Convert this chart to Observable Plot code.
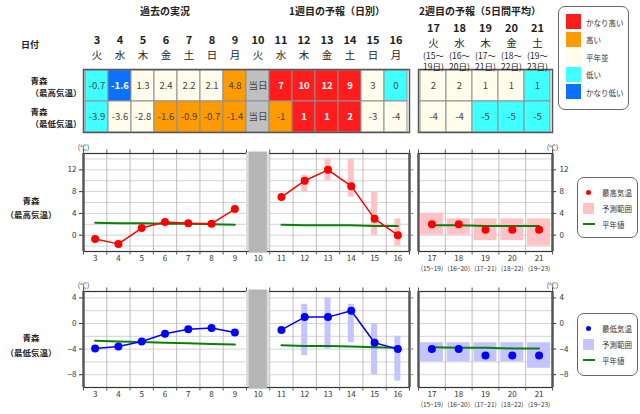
<!DOCTYPE html>
<html>
<head>
<meta charset="utf-8">
<script src="https://cdn.jsdelivr.net/npm/d3@7"></script>
<script src="https://cdn.jsdelivr.net/npm/@observablehq/plot@0.6"></script>
<style>
  body { margin: 0; background: #fff; }
  #root { position: relative; width: 640px; height: 414px; overflow: hidden;
          font-family: "Noto Sans CJK JP", "Noto Sans", sans-serif; color: #222; background: #fff; }
  .lbl { position: absolute; transform: translate(-50%, -50%); white-space: nowrap; text-align: center; }
  .legend { position: absolute; border: 1px solid #666; border-radius: 7px; background: #fff; box-sizing: border-box; }
  .legend .item { position: absolute; font-size: 7.5px; color: #333; white-space: nowrap; transform: translateY(-50%); }
  .legend .sw { position: absolute; }
</style>
</head>
<body>
<div id="root"></div>
<script>
// ---- 日付 ----
const days1 = [3, 4, 5, 6, 7, 8, 9, 10, 11, 12, 13, 14, 15, 16];
const weekdays1 = ["火", "水", "木", "金", "土", "日", "月", "火", "水", "木", "金", "土", "日", "月"];
const days2 = [17, 18, 19, 20, 21];
const weekdays2 = ["火", "水", "木", "金", "土"];
const spanStart2 = [15, 16, 17, 18, 19];
const spanEnd2 = [19, 20, 21, 22, 23];
const todayDay = 10;
const pastDays = [3, 4, 5, 6, 7, 8, 9];
const fcstDays = [11, 12, 13, 14, 15, 16];

// ---- 最高気温 ----
const pastHigh = [-0.7, -1.6, 1.3, 2.4, 2.2, 2.1, 4.8];
const fcstHigh = [7, 10, 12, 9, 3, 0];
const fcstHighMin = [null, 8, 10, 7, 0, -2];
const fcstHighMax = [null, 11, 14, 14, 8, 3];
const wk2High = [2, 2, 1, 1, 1];
const wk2HighMin = [0, 0, -1, -1, -2];
const wk2HighMax = [4, 3, 3, 3, 3];
const normHighPast = [2.3, 2.2, 2.2, 2.1, 2.1, 2.0, 1.9];
const normHighFcst = [1.9, 1.8, 1.8, 1.8, 1.7, 1.7];
const normHighWk2 = [1.8, 1.8, 1.7, 1.7, 1.7];

// ---- 最低気温 ----
const pastLow = [-3.9, -3.6, -2.8, -1.6, -0.9, -0.7, -1.4];
const fcstLow = [-1, 1, 1, 2, -3, -4];
const fcstLowMin = [null, -5, -4, -3, -8, -9];
const fcstLowMax = [null, 3, 4, 3, 0, -2];
const wk2Low = [-4, -4, -5, -5, -5];
const wk2LowMin = [-6, -6, -6, -6, -7];
const wk2LowMax = [-3, -3, -3, -3, -3];
const normLowPast = [-2.7, -2.8, -2.9, -3.0, -3.1, -3.2, -3.3];
const normLowFcst = [-3.4, -3.5, -3.5, -3.6, -3.7, -3.8];
const normLowWk2 = [-3.7, -3.8, -3.8, -3.9, -3.9];

// ---- 階級 ----
const classNames = ["かなり高い", "高い", "平年並", "低い", "かなり低い", "当日"];
const classColors = ["#ff1c1c", "#ff9a00", "#fffcec", "#40ffff", "#0a70ff", "#c0c0c0"];
const whiteTextClasses = ["かなり高い", "かなり低い"];
const highClass1 = ["低い", "かなり低い", "平年並", "平年並", "平年並", "平年並", "高い", "当日",
                    "かなり高い", "かなり高い", "かなり高い", "かなり高い", "平年並", "低い"];
const lowClass1 = ["低い", "平年並", "平年並", "高い", "高い", "高い", "高い", "当日",
                   "高い", "かなり高い", "かなり高い", "かなり高い", "平年並", "平年並"];
const highClass2 = ["平年並", "平年並", "平年並", "平年並", "低い"];
const lowClass2 = ["平年並", "平年並", "低い", "低い", "低い"];

// ---- 軸 ----
const rowKeys = ["最高気温", "最低気温"];
const highTicks = [0, 4, 8, 12];
const highGrid = [-2, 0, 2, 4, 6, 8, 10, 12, 14];
const lowTicks = [-8, -4, 0, 4];
const lowGrid = [-8, -6, -4, -2, 0, 2, 4];

const FONT = '"Noto Sans CJK JP", "Noto Sans", sans-serif';
const NORMAL = "#0a800a";
const root = document.getElementById("root");

function place(el, top) {
  el.style.position = "absolute";
  el.style.left = "0px";
  el.style.top = top + "px";
  root.appendChild(el);
}
function label(text, x, y, css = "") {
  const d = document.createElement("div");
  d.className = "lbl";
  d.style.cssText = `left:${x}px;top:${y}px;${css}`;
  d.textContent = text;
  root.appendChild(d);
}
const svgStyle = (size) => ({background: "transparent", overflow: "visible", fontFamily: FONT, fontSize: size, color: "#333"});

// ---- 表 ----
function week1Text(past, fcst) {
  return days1.map(d => {
    const p = pastDays.indexOf(d);
    if (p >= 0) return past[p].toFixed(1);
    if (d === todayDay) return "当日";
    return String(fcst[fcstDays.indexOf(d)]);
  });
}
function cellsFor(days, hiText, loText, hiCls, loCls) {
  return days.flatMap((day, i) => [
    {day, row: rowKeys[0], cls: hiCls[i], text: hiText[i]},
    {day, row: rowKeys[1], cls: loCls[i], text: loText[i]}
  ]);
}
function tablePlot(days, cells, ml, mr, extra) {
  return Plot.plot({
    width: 640, height: 140,
    marginTop: 69, marginBottom: 8, marginLeft: ml, marginRight: mr,
    x: {type: "band", domain: days, padding: 0, axis: null},
    y: {type: "band", domain: rowKeys, padding: 0, axis: null},
    color: {type: "ordinal", domain: classNames, range: classColors},
    style: svgStyle("9.5px"),
    marks: [
      Plot.cell(cells, {x: "day", y: "row", fill: "cls", stroke: "#8f8f8f", strokeWidth: 1}),
      Plot.text(cells.filter(d => whiteTextClasses.includes(d.cls)),
        {x: "day", y: "row", text: "text", fill: "white", fontWeight: "bold"}),
      Plot.text(cells.filter(d => !whiteTextClasses.includes(d.cls)),
        {x: "day", y: "row", text: "text", fill: "#444"}),
      Plot.frame({stroke: "#555", strokeWidth: 1.5}),
      ...extra
    ]
  });
}

const cells1 = cellsFor(days1, week1Text(pastHigh, fcstHigh), week1Text(pastLow, fcstLow), highClass1, lowClass1);
const cells2 = cellsFor(days2, wk2High.map(String), wk2Low.map(String), highClass2, lowClass2);

place(tablePlot(days1, cells1, 83, 231, [
  Plot.text(days1, {x: d => d, text: d => String(d), frameAnchor: "top", dy: -33, fontSize: 11, fontWeight: "bold", fill: "#222"}),
  Plot.text(days1, {x: d => d, text: (d, i) => weekdays1[i], frameAnchor: "top", dy: -18, fontSize: 10.5, fill: "#222"}),
  Plot.text(rowKeys, {y: d => d, text: d => `青森\n（${d}）`, frameAnchor: "left", dx: -53, fontSize: 8.5,
    fontWeight: "bold", lineHeight: 1.5, fill: "#222"})
]), 0);

place(tablePlot(days2, cells2, 418, 88, [
  Plot.text(days2, {x: d => d, text: d => String(d), frameAnchor: "top", dy: -45, fontSize: 11, fontWeight: "bold", fill: "#222"}),
  Plot.text(days2, {x: d => d, text: (d, i) => weekdays2[i], frameAnchor: "top", dy: -30, fontSize: 10.5, fill: "#222"}),
  Plot.text(days2, {x: d => d, text: (d, i) => `(${spanStart2[i]}～`, frameAnchor: "top", dy: -17, fontSize: 8.5, fill: "#222"}),
  Plot.text(days2, {x: d => d, text: (d, i) => `${spanEnd2[i]}日)`, frameAnchor: "top", dy: -6, fontSize: 8.5, fill: "#222"})
]), 0);

// ---- グラフ（過去・1週目） ----
function weekPanel(o) {
  const [ylo, yhi] = o.yDomain;
  const fh = o.height - o.mt - o.mb;
  const pxY = (yhi - ylo) / fh;
  const edges = [...days1.map(d => d - 0.5), days1[days1.length - 1] + 0.5];
  const x0 = edges[0], x1 = edges[edges.length - 1];
  const pxX = (x1 - x0) / (640 - 83 - 231);
  const pastPts = pastDays.map((day, i) => ({day, v: o.past[i], n: o.pastNorm[i]}));
  const fcstPts = fcstDays.map((day, i) => ({day, v: o.fcst[i], n: o.fcstNorm[i], lo: o.fcstMin[i], hi: o.fcstMax[i]}));
  return Plot.plot({
    width: 640, height: o.height, marginTop: o.mt, marginBottom: o.mb, marginLeft: 83, marginRight: 231,
    x: {domain: [x0, x1], axis: null},
    y: {domain: o.yDomain, ticks: o.ticks, tickSize: 4, tickPadding: 3, label: null},
    style: svgStyle("8px"),
    marks: [
      Plot.ruleY(o.grid, {stroke: "#d4d4d4"}),
      Plot.ruleX(edges.slice(1, -1), {stroke: "#bdbdbd"}),
      Plot.frame({stroke: "#333", strokeWidth: 1.2}),
      Plot.ruleX([x0, x1], {stroke: "#555", strokeWidth: 2.4}),
      Plot.ruleX(edges, {y1: yhi, y2: yhi + 3.5 * pxY, stroke: "#555"}),
      Plot.ruleX(edges, {y1: ylo, y2: ylo - 3.5 * pxY, stroke: "#555"}),
      Plot.ruleY(o.ticks, {x1: x1 + 1.5 * pxX, x2: x1 + 4.5 * pxX, stroke: "#888"}),
      Plot.rect([todayDay], {x1: d => d - 0.5, x2: d => d + 0.5, y1: ylo, y2: yhi, fill: "#dcdcdc"}),
      Plot.rect([todayDay], {x1: d => d - 0.5, x2: d => d + 0.5, y1: ylo, y2: yhi,
        insetLeft: 2.7, insetRight: 2.5, insetTop: -1.5, insetBottom: -1.5, fill: "#b5b5b5"}),
      Plot.rect(fcstPts.filter(d => d.lo != null), {x1: d => d.day - 0.13, x2: d => d.day + 0.13, y1: "lo", y2: "hi", fill: o.rangeColor}),
      Plot.line(pastPts, {x: "day", y: "n", stroke: NORMAL, strokeWidth: 2}),
      Plot.line(fcstPts, {x: "day", y: "n", stroke: NORMAL, strokeWidth: 2}),
      Plot.line(pastPts, {x: "day", y: "v", stroke: o.color, strokeWidth: 1.5}),
      Plot.line(fcstPts, {x: "day", y: "v", stroke: o.color, strokeWidth: 1.5}),
      Plot.dot(pastPts, {x: "day", y: "v", r: 4, fill: o.color}),
      Plot.dot(fcstPts, {x: "day", y: "v", r: 4, fill: o.color}),
      Plot.text(days1, {x: d => d, text: d => String(d), frameAnchor: "bottom", dy: 9.5, fill: "#333"}),
      Plot.text(["(℃)"], {text: d => d, frameAnchor: "top-left", textAnchor: "middle", dy: -8, fontSize: 7, fill: "#333"})
    ]
  });
}

// ---- グラフ（2週目） ----
function week2Panel(o) {
  const [ylo, yhi] = o.yDomain;
  const fh = o.height - o.mt - o.mb;
  const pxY = (yhi - ylo) / fh;
  const edges = [...days2.map(d => d - 0.5), days2[days2.length - 1] + 0.5];
  const x0 = edges[0], x1 = edges[edges.length - 1];
  const pts = days2.map((day, i) => ({day, v: o.vals[i], n: o.norm[i], lo: o.mins[i], hi: o.maxs[i]}));
  return Plot.plot({
    width: 640, height: o.height, marginTop: o.mt, marginBottom: o.mb, marginLeft: 418, marginRight: 88,
    x: {domain: [x0, x1], axis: null},
    y: {domain: o.yDomain, ticks: o.ticks, tickSize: 3, tickPadding: 4, label: null, axis: "right"},
    style: svgStyle("8px"),
    marks: [
      Plot.ruleY(o.grid, {stroke: "#d4d4d4"}),
      Plot.ruleX(edges.slice(1, -1), {stroke: "#bdbdbd"}),
      Plot.frame({stroke: "#333", strokeWidth: 1.2}),
      Plot.ruleX([x0, x1], {stroke: "#555", strokeWidth: 2.4}),
      Plot.ruleX(edges, {y1: yhi, y2: yhi + 3.5 * pxY, stroke: "#555"}),
      Plot.ruleX(edges, {y1: ylo, y2: ylo - 3.5 * pxY, stroke: "#555"}),
      Plot.rect(pts, {x1: d => d.day - 0.43, x2: d => d.day + 0.43, y1: "lo", y2: "hi", fill: o.rangeColor}),
      Plot.line(pts, {x: "day", y: "n", stroke: NORMAL, strokeWidth: 2}),
      Plot.dot(pts, {x: "day", y: "v", r: 4, fill: o.color}),
      Plot.text(days2, {x: d => d, text: d => String(d), frameAnchor: "bottom", dy: 9.5, fill: "#333"}),
      Plot.text(days2, {x: d => d, text: (d, i) => `(${spanStart2[i]}−${spanEnd2[i]})`, frameAnchor: "bottom", dy: 19.5, fontSize: 6.5, fill: "#333"}),
      Plot.text(["(℃)"], {text: d => d, frameAnchor: "top-right", textAnchor: "middle", dy: -8, fontSize: 7, fill: "#333"})
    ]
  });
}

const highOpts = {yDomain: [-3, 15], ticks: highTicks, grid: highGrid, color: "#ff0000", rangeColor: "#ffc2c6", height: 145, mt: 23, mb: 24};
const lowOpts = {yDomain: [-10, 5], ticks: lowTicks, grid: lowGrid, color: "#0000ff", rangeColor: "#c4c4ff", height: 139, mt: 16, mb: 27};

place(weekPanel({...highOpts, past: pastHigh, pastNorm: normHighPast, fcst: fcstHigh, fcstMin: fcstHighMin, fcstMax: fcstHighMax, fcstNorm: normHighFcst}), 130);
place(week2Panel({...highOpts, vals: wk2High, mins: wk2HighMin, maxs: wk2HighMax, norm: normHighWk2}), 130);
place(weekPanel({...lowOpts, past: pastLow, pastNorm: normLowPast, fcst: fcstLow, fcstMin: fcstLowMin, fcstMax: fcstLowMax, fcstNorm: normLowFcst}), 275);
place(week2Panel({...lowOpts, vals: wk2Low, mins: wk2LowMin, maxs: wk2LowMax, norm: normLowWk2}), 275);

// ---- 見出し ----
const headCss = "font-size:10px;font-weight:bold;color:#222;";
label("過去の実況", 165, 10, headCss);
label("1週目の予報（日別）", 337, 10, headCss);
label("2週目の予報（5日間平均）", 480, 10, headCss);
label("日付", 30, 44, "font-size:9px;font-weight:bold;color:#222;");
const rowCss = "font-size:8.5px;font-weight:bold;color:#222;";
label("青森", 31, 200, rowCss);
label(`（${rowKeys[0]}）`, 31, 214, rowCss);
label("青森", 31, 337, rowCss);
label(`（${rowKeys[1]}）`, 31, 351.5, rowCss);

// ---- 凡例（階級） ----
function box(left, top, w, h) {
  const b = document.createElement("div");
  b.className = "legend";
  b.style.cssText = `left:${left}px;top:${top}px;width:${w}px;height:${h}px;`;
  root.appendChild(b);
  return b;
}
function add(parent, cls, css, text) {
  const e = document.createElement("div");
  e.className = cls;
  e.style.cssText = css;
  if (text) e.textContent = text;
  parent.appendChild(e);
  return e;
}
const classLegend = box(558, 6, 71, 104);
classNames.slice(0, 5).forEach((name, i) => {
  const cy = 14.5 + i * 17.6;
  add(classLegend, "sw", `left:7px;top:${cy - 7.5}px;width:15px;height:15px;background:${classColors[i]};`);
  add(classLegend, "item", `left:27px;top:${cy}px;`, name);
});

// ---- 凡例（グラフ） ----
function chartLegend(top, h, color, rangeColor, name) {
  const b = box(577, top, 61, h);
  const rows = [14, 30, 46];
  add(b, "sw", `left:8px;top:${rows[0] - 2.5}px;width:5px;height:5px;border-radius:50%;background:${color};`);
  add(b, "sw", `left:5px;top:${rows[1] - 5.5}px;width:11px;height:11px;background:${rangeColor};`);
  add(b, "sw", `left:5px;top:${rows[2] - 1.25}px;width:12px;height:2.5px;background:${NORMAL};`);
  add(b, "item", `left:24px;top:${rows[0]}px;`, name);
  add(b, "item", `left:24px;top:${rows[1]}px;`, "予測範囲");
  add(b, "item", `left:24px;top:${rows[2]}px;`, "平年値");
}
chartLegend(177, 61, highOpts.color, highOpts.rangeColor, rowKeys[0]);
chartLegend(313, 63, lowOpts.color, lowOpts.rangeColor, rowKeys[1]);
</script>
</body>
</html>
